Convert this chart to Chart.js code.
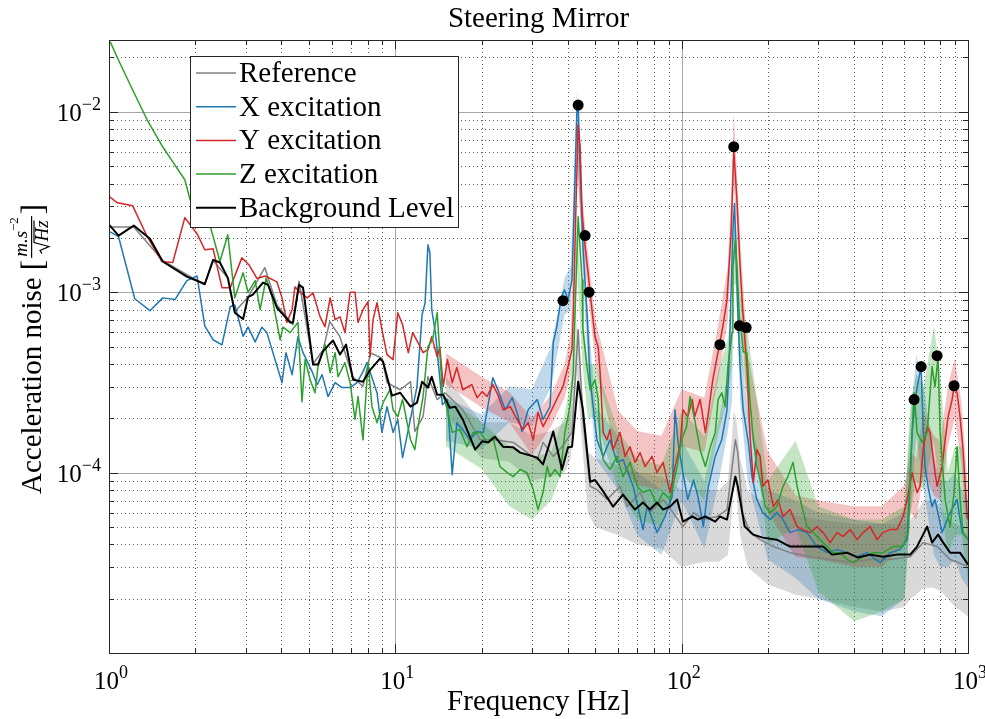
<!DOCTYPE html>
<html>
<head>
<meta charset="utf-8">
<script src="https://cdn.jsdelivr.net/npm/chart.js@4.4.1/dist/chart.umd.min.js"></script>
<style>
html, body { margin: 0; padding: 0; background: #fff; }
#wrap { width: 985px; height: 719px; }
</style>
</head>
<body>
<div id="wrap"><canvas id="myChart" width="985" height="719"></canvas></div>
<script>
// ---- data (Hz, m.s^-2/sqrt(Hz)) ----
const bgFreq = [1.0,1.08,1.22,1.39,1.54,1.87,2.16,2.31,2.44,2.60,2.75,2.94,3.06,3.18,3.45,3.59,3.86,4.29,4.39,4.61,
  4.76,5.16,5.37,5.59,5.92,6.06,6.41,6.73,7.12,7.71,8.16,8.84,9.06,9.74,10.4,11.3,11.9,12.4,13.0,13.4,
  14.0,14.7,15.5,16.2,17.2,19.0,20.1,21.1,22.3,23.8,25.8,27.3,28.8,31.3,32.8,35.6,38.2,40.1,41.4,43.5,
  45.2,47.9,49.8,52.7,57.6,62.4,68.7,73.3,77.5,82.0,86.1,91.1,96.4,101,109,114,121,131,136,144,
  154,157,166,178,192,215,239,265,312,335,378,413,455,505,565,628,664,720,749,786,819,866,938,1000];
const bgVal = [2.37e-3,2.06e-3,2.34e-3,1.98e-3,1.48e-3,1.22e-3,1.11e-3,1.51e-3,1.46e-3,1.20e-3,
  7.7e-4,7.1e-4,9.4e-4,9.7e-4,1.13e-3,1.10e-3,8.2e-4,6.8e-4,6.8e-4,1.10e-3,
  1.06e-3,3.97e-4,3.97e-4,4.7e-4,5.2e-4,5.4e-4,4.51e-4,5.12e-4,3.27e-4,3.19e-4,
  3.7e-4,4.28e-4,4.12e-4,2.67e-4,2.77e-4,2.32e-4,2.44e-4,3.19e-4,2.96e-4,3.40e-4,
  2.70e-4,2.70e-4,2.29e-4,2.32e-4,1.97e-4,1.34e-4,1.49e-4,1.47e-4,1.58e-4,1.39e-4,
  1.38e-4,1.29e-4,1.26e-4,1.21e-4,1.11e-4,1.69e-4,1.04e-4,1.38e-4,1.39e-4,3.19e-4,
  2.23e-4,8.9e-5,9.1e-5,8.05e-5,6.48e-5,7.55e-5,6.24e-5,6.82e-5,6.24e-5,6.82e-5,
  6.24e-5,6.48e-5,7.09e-5,5.35e-5,5.71e-5,5.49e-5,5.71e-5,5.35e-5,5.71e-5,5.49e-5,
  9.5e-5,8.4e-5,5.02e-5,4.53e-5,4.36e-5,4.25e-5,3.89e-5,3.89e-5,3.89e-5,3.51e-5,
  3.6e-5,3.38e-5,3.51e-5,3.42e-5,3.51e-5,3.51e-5,3.89e-5,5.02e-5,4.09e-5,4.53e-5,
  4.09e-5,3.6e-5,3.6e-5,3.09e-5];

const refFreq = [1.0,1.22,1.54,1.87,2.16,2.31,2.6,2.75,3.06,3.5,3.86,4.39,4.61,5.16,5.6,5.9,6.4,7.1,7.7,8.2,
  9.0,9.35,10.4,11.3,11.7,12.5,13.0,14.0,14.9,17.2,19.8,22.3,25.8,31.3,32.8,35.6,38.2,41.4,43.5,45.2,
  47.9,50.6,54.9,60.9,64.5,71.6,77.5,86.1,93.3,101,110,119,133,144,154,157,163,173,188,209,
  239,281,330,388,455,535,628,697,780,866,993];
const refVal = [2.3e-3,2.3e-3,1.5e-3,1.25e-3,1.1e-3,1.5e-3,1.2e-3,7.8e-4,9.4e-4,1.37e-3,8.5e-4,6.6e-4,1.15e-3,4.0e-4,4.8e-4,6.87e-4,5.67e-4,3.4e-4,3.0e-4,4.6e-4,
  4.3e-4,3.15e-4,2.88e-4,3.19e-4,1.69e-4,2.04e-4,3.40e-4,2.54e-4,2.77e-4,2.23e-4,1.52e-4,1.52e-4,1.47e-4,1.18e-4,1.47e-4,1.23e-4,1.39e-4,1.67e-4,6.2e-4,1.97e-4,
  8.4e-5,8.05e-5,7.09e-5,8.4e-5,6.48e-5,7.75e-5,6.0e-5,7.09e-5,6.0e-5,5.02e-5,6.0e-5,5.49e-5,5.71e-5,6.24e-5,1.52e-4,1.29e-4,6.0e-5,4.65e-5,4.25e-5,3.89e-5,
  3.6e-5,3.42e-5,3.30e-5,3.17e-5,3.30e-5,3.30e-5,3.42e-5,4.09e-5,3.89e-5,3.30e-5,3.03e-5];

const xFreq = [1.01,1.08,1.23,1.39,1.54,1.70,1.87,2.03,2.16,2.31,2.48,2.65,2.75,2.94,3.06,3.24,3.42,3.56,4.02,4.15,
  4.36,4.57,4.76,5.12,5.33,5.55,5.82,6.16,6.51,6.95,7.35,7.71,7.96,8.63,8.98,9.35,9.82,10.2,10.6,11.1,
  11.9,12.4,12.7,13.0,13.2,13.4,13.8,14.6,15.2,15.8,16.4,17.2,18.2,19.3,20.3,21.9,22.8,24.2,25.6,26.6,
  27.7,29.1,31.3,32.8,34.7,35.6,36.6,38.0,39.0,40.1,41.4,42.4,43.1,43.5,44.2,45.2,46.7,47.9,50.6,53.2,
  56.2,59.5,62.4,67.7,73.3,75.7,77.5,82.0,87.5,92.6,94.8,97.1,101,105,110,114,119,124,131,138,
  144,147,149,151,153,155,157,160,164,171,176,183,192,204,215,226,239,255,274,297,
  322,349,378,410,444,493,535,579,613,638,654,669,686,697,708,725,749,767,812,866,
  916,954,1000];
const xVal = [2.16e-3,2.03e-3,9.2e-4,7.9e-4,9.3e-4,9.1e-4,1.16e-3,1.23e-3,6.5e-4,5.45e-4,5.1e-4,8.3e-4,8.5e-4,5.7e-4,6.4e-4,5.3e-4,6.4e-4,5.97e-4,3.15e-4,4.62e-4,
  3.49e-4,5.67e-4,4.62e-4,3.63e-4,3.07e-4,3.49e-4,2.64e-4,3.15e-4,2.96e-4,2.96e-4,3.15e-4,3.63e-4,4.07e-4,2.77e-4,1.67e-4,2.32e-4,1.67e-4,1.97e-4,1.21e-4,1.73e-4,
  2.99e-4,7.5e-4,8.7e-4,1.83e-3,1.66e-3,8.0e-4,5.97e-4,2.38e-4,2.54e-4,9.75e-5,1.89e-4,1.73e-4,1.52e-4,1.69e-4,1.67e-4,3.36e-4,2.88e-4,2.23e-4,2.60e-4,2.15e-4,
  1.69e-4,2.23e-4,2.54e-4,1.97e-4,2.32e-4,5.25e-4,6.4e-4,9.4e-4,1.03e-3,9.1e-4,1.17e-3,4.2e-3,1.05e-2,1.12e-2,4.8e-3,1.79e-3,7.7e-4,3.27e-4,1.52e-4,1.23e-4,
  1.52e-4,1.14e-4,1.18e-4,8.4e-5,4.83e-5,6.48e-5,6.0e-5,4.65e-5,5.71e-5,7.36e-5,2.23e-4,1.47e-4,1.0e-4,7.09e-5,9.1e-5,7.36e-5,5.02e-5,8.4e-5,1.23e-4,1.52e-4,
  2.23e-4,5.0e-4,1.1e-3,2.2e-3,3.1e-3,1.6e-3,8.0e-4,3.87e-4,2.23e-4,1.47e-4,9.5e-5,7.09e-5,6.0e-5,5.49e-5,6.0e-5,5.49e-5,4.65e-5,4.83e-5,4.65e-5,3.89e-5,
  3.6e-5,3.74e-5,3.6e-5,3.42e-5,3.6e-5,3.17e-5,3.6e-5,3.74e-5,4.25e-5,1.67e-4,2.54e-4,3.15e-4,3.87e-4,1.80e-4,1.08e-4,8.4e-5,6.48e-5,7.09e-5,4.65e-5,6.0e-5,
  7.09e-5,4.65e-5,4.25e-5];

const yFreq = [1.0,1.07,1.21,1.36,1.53,1.67,1.84,2.03,2.16,2.31,2.48,2.65,2.91,3.08,3.29,3.51,3.86,4.02,4.18,4.36,
  4.46,4.65,4.92,5.16,5.46,5.68,5.92,6.16,6.41,6.67,6.95,7.23,7.41,7.71,8.03,8.16,8.36,8.63,8.98,9.35,
  9.82,10.2,10.6,11.1,11.5,12.0,12.5,13.0,13.4,14.0,14.3,14.7,15.2,15.8,16.4,17.2,18.5,19.3,20.1,20.9,
  21.9,22.8,23.8,25.2,26.6,27.9,29.1,30.3,31.5,32.8,34.2,35.6,37.0,38.5,40.1,41.4,41.8,42.8,43.5,44.2,
  44.9,46.0,47.1,48.6,49.8,51.1,51.9,53.2,54.9,56.2,57.6,60.9,63.4,66.0,68.7,71.6,74.5,78.8,82.0,86.1,
  91.1,94.8,98.7,101,105,109,111,116,121,124,128,131,136,140,144,149,152,156,160,164,
  169,173,178,183,188,192,200,209,217,226,239,253,265,281,297,312,330,349,366,388,
  410,430,455,481,505,535,565,593,613,638,664,680,697,720,737,767,780,812,832,852,
  880,894,916,938,961,993,1000];
const yVal = [3.4e-3,3.13e-3,3.01e-3,2.03e-3,1.48e-3,1.46e-3,2.59e-3,2.11e-3,1.72e-3,1.74e-3,1.06e-3,1.06e-3,1.55e-3,1.42e-3,1.19e-3,1.23e-3,1.14e-3,9.3e-4,6.8e-4,8.0e-4,
  1.07e-3,1.0e-3,9.3e-4,9.9e-4,7.3e-4,6.44e-4,9.3e-4,7.04e-4,7.3e-4,5.97e-4,1.0e-3,1.0e-3,6.8e-4,8.0e-4,8.86e-4,4.39e-4,7.04e-4,8.74e-4,6.2e-4,4.51e-4,
  4.23e-4,7.7e-4,6.6e-4,4.62e-4,5.97e-4,5.25e-4,4.62e-4,4.8e-4,5.67e-4,4.39e-4,4.99e-4,3.0e-4,4.23e-4,3.15e-4,3.82e-4,2.88e-4,3.07e-4,2.60e-4,2.81e-4,2.64e-4,
  3.07e-4,2.70e-4,2.23e-4,2.32e-4,1.97e-4,1.73e-4,1.89e-4,1.52e-4,2.15e-4,1.80e-4,2.04e-4,2.32e-4,2.64e-4,2.99e-4,3.87e-4,4.8e-4,7.3e-4,3.25e-3,8.47e-3,6.4e-3,
  2.76e-3,1.79e-3,1.28e-3,8.0e-4,5.67e-4,4.99e-4,3.58e-4,1.67e-4,1.52e-4,1.73e-4,1.34e-4,1.67e-4,1.23e-4,1.39e-4,1.14e-4,1.29e-4,1.08e-4,1.23e-4,1.0e-4,1.14e-4,
  7.75e-5,1.08e-4,1.39e-4,2.23e-4,2.04e-4,2.54e-4,2.04e-4,2.54e-4,1.67e-4,2.15e-4,3.15e-4,3.87e-4,5.25e-4,6.8e-4,9.1e-4,2.22e-3,6.16e-3,3.25e-3,1.38e-3,7.3e-4,
  3.87e-4,1.67e-4,8.8e-5,1.34e-4,1.23e-4,8.4e-5,9.1e-5,6.48e-5,7.09e-5,5.71e-5,6.24e-5,5.02e-5,4.83e-5,4.65e-5,5.02e-5,4.65e-5,4.09e-5,4.65e-5,4.42e-5,4.83e-5,
  4.25e-5,4.65e-5,5.02e-5,4.25e-5,4.65e-5,4.83e-5,4.83e-5,5.71e-5,7.09e-5,1.0e-4,7.75e-5,8.4e-5,1.34e-4,1.80e-4,1.67e-4,1.0e-4,8.4e-5,1.08e-4,1.52e-4,2.04e-4,
  2.54e-4,2.99e-4,2.77e-4,2.04e-4,1.34e-4,5.71e-5,5.49e-5];

const zFreq = [1.01,1.09,1.21,1.36,1.54,1.67,1.84,1.92,2.1,2.25,2.44,2.60,2.75,2.94,3.06,3.24,3.37,3.54,3.71,3.96,
  4.05,4.29,4.57,4.72,4.84,5.04,5.24,5.37,5.68,5.92,6.16,6.31,6.67,6.95,7.23,7.41,7.71,8.03,8.29,8.63,
  9.06,9.58,9.82,10.2,10.6,11.3,11.7,12.0,12.5,13.0,13.5,14.0,14.6,15.2,15.8,16.8,17.8,18.7,19.8,20.9,
  21.9,23.2,24.6,25.8,27.3,28.8,30.3,31.5,32.8,33.9,34.7,36.1,37.6,39.1,40.7,41.8,42.8,43.5,44.2,44.9,
  45.2,46.7,47.9,49.8,51.1,51.9,53.2,56.2,59.5,62.4,66.0,69.9,73.3,77.5,82.0,86.1,91.1,96.4,100,104,
  107,111,116,121,126,131,134,138,142,145,150,151,154,156,159,161,164,169,173,178,
  183,188,196,204,215,226,235,245,253,263,274,288,304,322,338,358,378,397,430,466,
  505,547,593,618,638,648,664,691,720,749,767,786,799,832,866,894,916,938,961,1000];
const zVal = [2.44e-2,1.87e-2,1.32e-2,9.0e-3,6.4e-3,5.28e-3,4.2e-3,3.25e-3,2.6e-3,2.37e-3,1.48e-3,2.08e-3,9.3e-4,1.28e-3,1.0e-3,1.16e-3,8.0e-4,1.20e-3,9.4e-4,5.45e-4,
  6.4e-4,5.97e-4,6.8e-4,2.47e-4,4.23e-4,3.27e-4,2.77e-4,3.87e-4,5.12e-4,3.58e-4,4.62e-4,3.40e-4,4.07e-4,3.15e-4,1.97e-4,2.64e-4,1.52e-4,4.07e-4,2.32e-4,1.89e-4,
  2.44e-4,2.88e-4,2.23e-4,2.04e-4,2.54e-4,1.52e-4,1.34e-4,1.80e-4,2.64e-4,4.99e-4,5.45e-4,7.7e-4,2.77e-4,2.23e-4,1.67e-4,1.73e-4,1.39e-4,1.67e-4,1.67e-4,1.47e-4,
  1.58e-4,1.08e-4,1.0e-4,9.5e-5,1.04e-4,1.0e-4,8.05e-5,6.24e-5,7.75e-5,1.08e-4,9.5e-5,1.04e-4,9.5e-5,1.67e-4,2.32e-4,3.58e-4,1.17e-3,2.62e-3,1.72e-3,1.17e-3,
  6.2e-4,3.87e-4,2.88e-4,3.27e-4,2.54e-4,1.52e-4,1.18e-4,1.04e-4,1.23e-4,9.5e-5,1.14e-4,8.4e-5,7.75e-5,8.05e-5,6.65e-5,7.75e-5,7.09e-5,1.08e-4,1.52e-4,1.80e-4,
  2.64e-4,1.97e-4,1.34e-4,1.08e-4,1.39e-4,1.67e-4,2.54e-4,2.77e-4,2.32e-4,3.87e-4,5.97e-4,1.38e-3,1.95e-3,1.38e-3,7.3e-4,6.44e-4,4.68e-4,4.62e-4,2.54e-4,1.52e-4,
  1.08e-4,9.1e-5,6.48e-5,6.0e-5,6.48e-5,8.4e-5,9.5e-5,1.14e-4,8.4e-5,6.48e-5,5.02e-5,4.65e-5,4.25e-5,3.89e-5,3.6e-5,3.6e-5,3.30e-5,3.17e-5,3.42e-5,3.6e-5,
  3.6e-5,3.89e-5,3.89e-5,4.65e-5,1.67e-4,2.77e-4,1.67e-4,1.47e-4,1.67e-4,3.87e-4,2.99e-4,4.39e-4,1.67e-4,7.09e-5,5.02e-5,7.75e-5,1.39e-4,7.09e-5,4.65e-5,4.25e-5];

// spread of the raw spectra (light bands), upper / lower edges
const bandFreq = [15,20,25,30,35,39,41,43,45,47,50,60,70,85,100,120,135,145,150,152,
  155,160,170,200,250,300,400,500,600,630,660,700,760,800,850,900,950,1000];
const refHi = [3.4e-4,1.9e-4,1.9e-4,1.6e-4,1.7e-4,1.9e-4,2.2e-4,7e-4,2.8e-4,1.3e-4,1.2e-4,1.1e-4,1.0e-4,9.5e-5,8e-5,8e-5,8e-5,9e-5,1.6e-4,2.2e-4,
  2e-4,1.2e-4,8e-5,6.5e-5,5.8e-5,5.5e-5,5.2e-5,5.2e-5,5.2e-5,5.5e-5,6e-5,7e-5,7e-5,6.5e-5,5.5e-5,5.2e-5,5e-5,4.5e-5];
const refLo = [2.1e-4,1.2e-4,1.15e-4,9e-5,9.5e-5,1.0e-4,1.2e-4,3.5e-4,1.4e-4,6e-5,5e-5,4.5e-5,4e-5,3.8e-5,3e-5,3.2e-5,3.2e-5,3.5e-5,6e-5,9e-5,
  8e-5,4.5e-5,3e-5,2.4e-5,2.1e-5,2e-5,1.8e-5,1.7e-5,1.8e-5,2e-5,2.1e-5,2.3e-5,2.3e-5,2.2e-5,2e-5,1.8e-5,1.7e-5,1.6e-5];
const xHi = [2.6e-4,2.1e-4,3e-4,2.9e-4,5e-4,1.2e-3,1.4e-3,1.3e-2,2.6e-3,8e-4,2.3e-4,1.6e-4,1.0e-4,8e-5,1.5e-4,9e-5,2e-4,3.5e-4,6e-4,3.2e-3,
  2e-3,5.5e-4,2.2e-4,8e-5,7e-5,6e-5,5.5e-5,5.2e-5,6e-5,2e-4,4.5e-4,3e-4,1.2e-4,9e-5,9e-5,1e-4,8e-5,7e-5];
const xLo = [1.5e-4,1.35e-4,1.9e-4,1.8e-4,3e-4,7.5e-4,8e-4,7e-3,1.4e-3,4e-4,1.2e-4,8e-5,4.5e-5,3.5e-5,7e-5,3.8e-5,9e-5,1.7e-4,2.5e-4,1.8e-3,
  1e-3,2.5e-4,9e-5,3.3e-5,2.6e-5,2e-5,1.7e-5,1.6e-5,2e-5,6e-5,1.6e-4,8e-5,3.5e-5,3e-5,3e-5,3.3e-5,2.6e-5,2.3e-5];
const yHi = [4.6e-4,3.4e-4,2.8e-4,2e-4,2.7e-4,4e-4,6e-4,1e-2,3.3e-3,1.7e-3,7e-4,2.2e-4,1.7e-4,1.6e-4,2.9e-4,2.6e-4,7e-4,1.4e-3,4.5e-3,1e-2,
  5.5e-3,2e-3,4.5e-4,1.3e-4,7.5e-5,7e-5,6.5e-5,6.5e-5,8.5e-5,1.3e-4,1.2e-4,2.2e-4,1.6e-4,1.5e-4,3e-4,4.3e-4,2.4e-4,8e-5];
const yLo = [3.1e-4,2.3e-4,1.9e-4,1.25e-4,1.8e-4,2.6e-4,3.5e-4,5e-3,2e-3,1e-3,4e-4,1.15e-4,8.5e-5,8e-5,1.4e-4,1.3e-4,3.5e-4,7e-4,2e-3,4e-3,
  2.6e-3,1e-3,2e-4,6e-5,3.4e-5,3.3e-5,3e-5,3e-5,4e-5,6e-5,5.5e-5,1e-4,7.5e-5,7e-5,1.4e-4,2e-4,1.1e-4,3.5e-5];
const zHi = [2.6e-4,1.9e-4,1.4e-4,1.2e-4,1.3e-4,2.1e-4,3.3e-4,2.6e-3,8e-4,4e-4,4e-4,1.7e-4,1.2e-4,1.1e-4,2.2e-4,1.6e-4,3.8e-4,5.5e-4,8.5e-4,2.3e-3,
  2.3e-3,1e-3,6e-4,9e-5,1.5e-4,6.5e-5,5.5e-5,5.5e-5,6.5e-5,2.5e-4,3.5e-4,3e-4,6.5e-4,3.5e-4,1e-4,1.4e-4,1.4e-4,6.5e-5];
const zLo = [1.4e-4,1.05e-4,6.5e-5,5.5e-5,7e-5,1.1e-4,1.7e-4,1.5e-3,4e-4,2e-4,2e-4,8e-5,5.5e-5,5e-5,1e-4,7e-5,1.7e-4,2.6e-4,4e-4,1.1e-3,
  1.1e-3,4.5e-4,2.6e-4,4e-5,5e-5,2.2e-5,1.5e-5,1.7e-5,2e-5,6e-5,9e-5,8e-5,1.5e-4,7e-5,3.5e-5,4.5e-5,4.5e-5,2.5e-5];

// identified resonances (black dots)
const peakFreq = [38.5,43.5,46.0,47.5,136,152,159,168,648,686,780,894];
const peakVal = [8.97e-4,1.09e-2,2.06e-3,1.0e-3,5.12e-4,6.4e-3,6.52e-4,6.37e-4,2.54e-4,3.87e-4,4.45e-4,3.03e-4];

// axes
const xMajor = [1, 10, 100, 1000];
const xTickExp = ['0', '1', '2', '3'];
const yMajor = [1e-5, 1e-4, 1e-3, 1e-2];
const yTickVals = [1e-4, 1e-3, 1e-2];
const yTickExp = ['\u22124', '\u22123', '\u22122'];

const xMin = 1, xMax = 1000, yMin = 1e-5, yMax = 0.025;

const FONT = '"Liberation Serif", "DejaVu Serif", serif';

function pts(fs, vs) {
    return fs.map((f, i) => ({ x: f, y: vs[i] }));
}

function minorsOf(majors, lo, hi) {
    const out = [];
    majors.forEach(m => {
        for (let k = 2; k <= 9; k++) {
            const v = m * k;
            if (v > lo && v < hi) out.push(v);
        }
    });
    return out;
}

const grayC = '#808080', blueC = '#1f77b4', redC = '#d62728', greenC = '#2ca02c';

function lineSet(label, fs, vs, color, width, order) {
    return {
        label: label, data: pts(fs, vs), borderColor: color, borderWidth: width,
        pointRadius: 0, fill: false, tension: 0, order: order, inLegend: true,
        borderJoinStyle: 'round'
    };
}

function bandSets(fs, hi, lo, fillColor, order) {
    return [
        { label: '', data: pts(fs, hi), borderWidth: 0, pointRadius: 0, fill: '+1',
          backgroundColor: fillColor, order: order, tension: 0 },
        { label: '', data: pts(fs, lo), borderWidth: 0, pointRadius: 0, fill: false,
          order: order, tension: 0 }
    ];
}

const datasets = [
    ...bandSets(bandFreq, refHi, refLo, 'rgba(128,128,128,0.3)', 9),
    ...bandSets(bandFreq, xHi, xLo, 'rgba(31,119,180,0.28)', 8),
    ...bandSets(bandFreq, yHi, yLo, 'rgba(214,39,40,0.28)', 7),
    ...bandSets(bandFreq, zHi, zLo, 'rgba(44,160,44,0.28)', 6),
    lineSet('Reference', refFreq, refVal, grayC, 1.5, 5),
    lineSet('X excitation', xFreq, xVal, blueC, 1.5, 4),
    lineSet('Y excitation', yFreq, yVal, redC, 1.5, 3),
    lineSet('Z excitation', zFreq, zVal, greenC, 1.5, 2),
    lineSet('Background Level', bgFreq, bgVal, '#000000', 2, 1),
    { label: '', data: pts(peakFreq, peakVal), showLine: false, pointRadius: 5.5,
      pointBackgroundColor: '#000', pointBorderWidth: 0, order: 0 }
];

function drawPow(ctx, base, exp, x, y, align) {
    ctx.font = '25px ' + FONT;
    const wb = ctx.measureText(base).width;
    ctx.font = '18px ' + FONT;
    const we = ctx.measureText(exp).width;
    let x0 = align === 'right' ? x - wb - we : x - (wb + we) / 2;
    ctx.textAlign = 'left';
    ctx.textBaseline = 'alphabetic';
    ctx.font = '25px ' + FONT;
    ctx.fillText(base, x0, y);
    ctx.font = '18px ' + FONT;
    ctx.fillText(exp, x0 + wb, y - 11);
}

const decor = {
    id: 'decor',
    beforeDatasetsDraw(chart) {
        const { ctx, chartArea: a, scales: { x, y } } = chart;
        ctx.save();
        ctx.lineWidth = 1;
        // minor grid, dotted
        ctx.strokeStyle = 'rgba(40,40,40,0.75)';
        ctx.setLineDash([1, 3]);
        ctx.beginPath();
        minorsOf(xMajor, xMin, xMax).forEach(v => {
            const px = Math.round(x.getPixelForValue(v)) + 0.5;
            ctx.moveTo(px, a.top); ctx.lineTo(px, a.bottom);
        });
        minorsOf(yMajor, yMin, yMax).forEach(v => {
            const py = Math.round(y.getPixelForValue(v)) + 0.5;
            ctx.moveTo(a.left, py); ctx.lineTo(a.right, py);
        });
        ctx.stroke();
        // major grid, solid
        ctx.setLineDash([]);
        ctx.strokeStyle = 'rgba(0,0,0,0.35)';
        ctx.beginPath();
        xMajor.forEach(v => {
            if (v <= xMin || v >= xMax) return;
            const px = Math.round(x.getPixelForValue(v)) + 0.5;
            ctx.moveTo(px, a.top); ctx.lineTo(px, a.bottom);
        });
        yMajor.forEach(v => {
            if (v <= yMin || v >= yMax) return;
            const py = Math.round(y.getPixelForValue(v)) + 0.5;
            ctx.moveTo(a.left, py); ctx.lineTo(a.right, py);
        });
        ctx.stroke();
        ctx.restore();
    },
    afterDraw(chart) {
        const { ctx, chartArea: a, scales: { x, y } } = chart;
        ctx.save();
        ctx.fillStyle = '#000';
        ctx.strokeStyle = '#262626';
        ctx.lineWidth = 1;
        // box
        ctx.strokeRect(Math.round(a.left) + 0.5, Math.round(a.top) + 0.5,
            Math.round(a.right - a.left), Math.round(a.bottom - a.top));
        // inward ticks on all sides
        ctx.beginPath();
        const tx = (v, len) => {
            const px = Math.round(x.getPixelForValue(v)) + 0.5;
            ctx.moveTo(px, a.bottom); ctx.lineTo(px, a.bottom - len);
            ctx.moveTo(px, a.top); ctx.lineTo(px, a.top + len);
        };
        const ty = (v, len) => {
            const py = Math.round(y.getPixelForValue(v)) + 0.5;
            ctx.moveTo(a.left, py); ctx.lineTo(a.left + len, py);
            ctx.moveTo(a.right, py); ctx.lineTo(a.right - len, py);
        };
        xMajor.forEach(v => tx(v, 9));
        minorsOf(xMajor, xMin, xMax).forEach(v => tx(v, 5));
        yMajor.forEach(v => { if (v > yMin && v < yMax) ty(v, 9); });
        minorsOf(yMajor, yMin, yMax).forEach(v => ty(v, 5));
        ctx.stroke();

        // tick labels
        xMajor.forEach((v, i) => drawPow(ctx, '10', xTickExp[i], x.getPixelForValue(v) + 2, a.bottom + 36, 'center'));
        yTickVals.forEach((v, i) => drawPow(ctx, '10', yTickExp[i], a.left - 8, y.getPixelForValue(v) + 9, 'right'));

        // title and x label
        ctx.textAlign = 'center';
        ctx.textBaseline = 'alphabetic';
        ctx.font = '29px ' + FONT;
        ctx.fillText('Steering Mirror', (a.left + a.right) / 2, 27);
        ctx.fillText('Frequency [Hz]', (a.left + a.right) / 2, 710);

        // y label, rotated
        ctx.save();
        ctx.translate(41, 494);
        ctx.rotate(-Math.PI / 2);
        ctx.textAlign = 'left';
        ctx.font = '29px ' + FONT;
        const main = 'Acceleration noise ';
        ctx.fillText(main, 0, 0);
        let cx = ctx.measureText(main).width;
        ctx.font = '31px ' + FONT;
        ctx.fillText('[', cx, 2);
        cx += ctx.measureText('[').width + 2;
        // numerator m.s^-2
        ctx.font = 'italic 19px ' + FONT;
        const num = 'm.s';
        const wNum = ctx.measureText(num).width;
        ctx.font = '13px ' + FONT;
        const wExp = ctx.measureText('\u22122').width;
        const wTop = wNum + wExp;
        ctx.font = 'italic 19px ' + FONT;
        const den = 'Hz';
        const wDen = ctx.measureText(den).width + 12;
        const wFrac = Math.max(wTop, wDen) + 2;
        ctx.font = 'italic 19px ' + FONT;
        ctx.fillText(num, cx + (wFrac - wTop) / 2, -14);
        ctx.font = '13px ' + FONT;
        ctx.fillText('\u22122', cx + (wFrac - wTop) / 2 + wNum, -23);
        ctx.fillRect(cx, -10, wFrac, 1.2);
        // denominator sqrt(Hz)
        const d0 = cx + (wFrac - wDen) / 2;
        ctx.beginPath();
        ctx.lineWidth = 1.2;
        ctx.strokeStyle = '#000';
        ctx.moveTo(d0, 1); ctx.lineTo(d0 + 3, -1);
        ctx.lineTo(d0 + 7, 8); ctx.lineTo(d0 + 11, -7); ctx.lineTo(d0 + wDen, -7);
        ctx.stroke();
        ctx.font = 'italic 19px ' + FONT;
        ctx.fillText(den, d0 + 12, 7);
        cx += wFrac + 2;
        ctx.font = '31px ' + FONT;
        ctx.fillText(']', cx, 2);
        ctx.restore();

        // legend box
        const lx = 190, ly = 56, lw = 268, lh = 171;
        ctx.fillStyle = '#fff';
        ctx.fillRect(lx, ly, lw, lh);
        ctx.strokeStyle = '#262626';
        ctx.lineWidth = 1;
        ctx.strokeRect(lx + 0.5, ly + 0.5, lw, lh);
        const items = chart.data.datasets.filter(d => d.inLegend);
        ctx.font = '29px ' + FONT;
        ctx.textAlign = 'left';
        ctx.textBaseline = 'alphabetic';
        items.forEach((d, i) => {
            const yy = 73 + i * 33.7;
            ctx.strokeStyle = d.borderColor;
            ctx.lineWidth = d.borderWidth;
            ctx.beginPath();
            ctx.moveTo(196, yy); ctx.lineTo(236, yy);
            ctx.stroke();
            ctx.fillStyle = '#000';
            ctx.fillText(d.label, 239, yy + 9);
        });
        ctx.restore();
    }
};

const ctx = document.getElementById('myChart').getContext('2d');
const myChart = new Chart(ctx, {
    type: 'line',
    data: { datasets: datasets },
    options: {
        responsive: false,
        animation: false,
        devicePixelRatio: 1,
        layout: { padding: { left: 109, right: 17, top: 40, bottom: 66 } },
        plugins: {
            legend: { display: false },
            tooltip: { enabled: false },
            title: { display: false }
        },
        scales: {
            x: { type: 'logarithmic', min: xMin, max: xMax, display: false },
            y: { type: 'logarithmic', min: yMin, max: yMax, display: false }
        }
    },
    plugins: [decor]
});
</script>
</body>
</html>
